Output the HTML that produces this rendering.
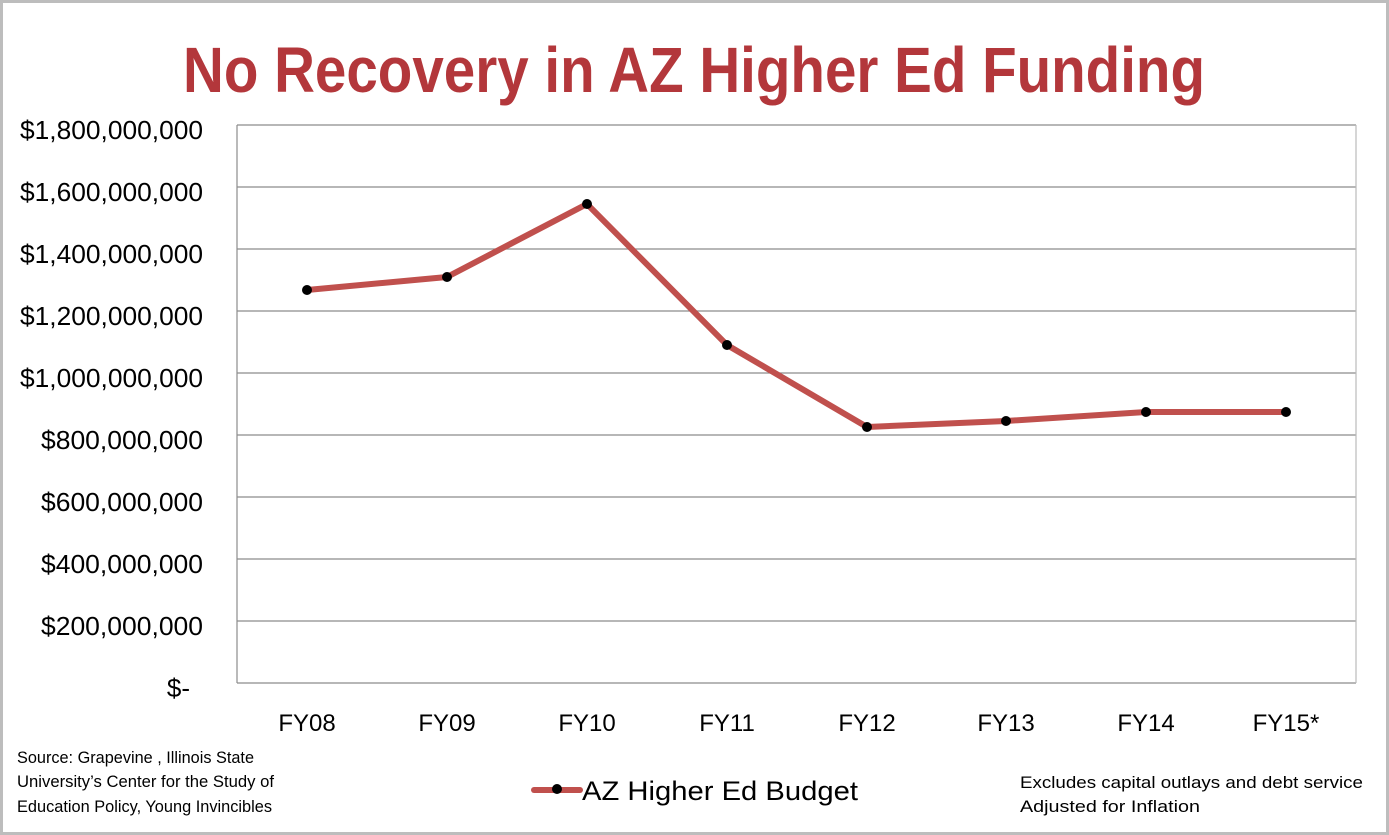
<!DOCTYPE html>
<html><head><meta charset="utf-8"><style>
html,body{margin:0;padding:0;background:#fff}
svg{display:block}
text{font-family:"Liberation Sans",sans-serif}
</style></head><body>
<svg width="1389" height="835" viewBox="0 0 1389 835" xmlns="http://www.w3.org/2000/svg">
<rect x="1.5" y="1.5" width="1386" height="832" fill="#fff" stroke="#bdbdbd" stroke-width="3"/>
<text x="694" y="92" text-anchor="middle" font-size="64" font-weight="bold" fill="#b3373b" textLength="1022" lengthAdjust="spacingAndGlyphs">No Recovery in AZ Higher Ed Funding</text>
<g stroke="#8c8c8c" stroke-width="1.2">
<line x1="237" y1="125" x2="1356" y2="125"/>
<line x1="237" y1="187" x2="1356" y2="187"/>
<line x1="237" y1="249" x2="1356" y2="249"/>
<line x1="237" y1="311" x2="1356" y2="311"/>
<line x1="237" y1="373" x2="1356" y2="373"/>
<line x1="237" y1="435" x2="1356" y2="435"/>
<line x1="237" y1="497" x2="1356" y2="497"/>
<line x1="237" y1="559" x2="1356" y2="559"/>
<line x1="237" y1="621" x2="1356" y2="621"/>
<line x1="237" y1="683" x2="1356" y2="683"/>
<line x1="237" y1="125" x2="237" y2="683"/>
<line x1="1356" y1="125" x2="1356" y2="683" stroke="#bbb"/>
</g>
<g font-size="26" fill="#000" text-anchor="end">
<text x="203" y="139" textLength="183" lengthAdjust="spacingAndGlyphs">$1,800,000,000</text>
<text x="203" y="201" textLength="183" lengthAdjust="spacingAndGlyphs">$1,600,000,000</text>
<text x="203" y="263" textLength="183" lengthAdjust="spacingAndGlyphs">$1,400,000,000</text>
<text x="203" y="325" textLength="183" lengthAdjust="spacingAndGlyphs">$1,200,000,000</text>
<text x="203" y="387" textLength="183" lengthAdjust="spacingAndGlyphs">$1,000,000,000</text>
<text x="203" y="449" textLength="162" lengthAdjust="spacingAndGlyphs">$800,000,000</text>
<text x="203" y="511" textLength="162" lengthAdjust="spacingAndGlyphs">$600,000,000</text>
<text x="203" y="573" textLength="162" lengthAdjust="spacingAndGlyphs">$400,000,000</text>
<text x="203" y="635" textLength="162" lengthAdjust="spacingAndGlyphs">$200,000,000</text>
<text x="190" y="697">$-</text>
</g>
<g font-size="24" fill="#000" text-anchor="middle">
<text x="307" y="731">FY08</text><text x="447" y="731">FY09</text><text x="587" y="731">FY10</text><text x="727" y="731">FY11</text>
<text x="867" y="731">FY12</text><text x="1006" y="731">FY13</text><text x="1146" y="731">FY14</text><text x="1286" y="731">FY15*</text>
</g>
<polyline points="307,290 447,277 587,204 727,345 867,427 1006,421 1146,412 1286,412" fill="none" stroke="#c0504d" stroke-width="6" stroke-linejoin="round"/>
<g fill="#000">
<circle cx="307" cy="290" r="5"/><circle cx="447" cy="277" r="5"/><circle cx="587" cy="204" r="5"/><circle cx="727" cy="345" r="5"/>
<circle cx="867" cy="427" r="5"/><circle cx="1006" cy="421" r="5"/><circle cx="1146" cy="412" r="5"/><circle cx="1286" cy="412" r="5"/>
</g>
<g font-size="16.5" fill="#000">
<text x="17" y="763" textLength="237" lengthAdjust="spacingAndGlyphs">Source: Grapevine , Illinois State</text>
<text x="17" y="787" textLength="257" lengthAdjust="spacingAndGlyphs">University’s Center for the Study of</text>
<text x="17" y="812" textLength="255" lengthAdjust="spacingAndGlyphs">Education Policy, Young Invincibles</text>
<text x="1020" y="788" textLength="343" lengthAdjust="spacingAndGlyphs">Excludes capital outlays and debt service</text>
<text x="1020" y="812" textLength="180" lengthAdjust="spacingAndGlyphs">Adjusted for Inflation</text>
</g>
<line x1="534" y1="790" x2="580" y2="790" stroke="#c0504d" stroke-width="6" stroke-linecap="round"/>
<circle cx="557" cy="789" r="5" fill="#000"/>
<text x="582" y="800" font-size="27" fill="#000" textLength="276" lengthAdjust="spacingAndGlyphs">AZ Higher Ed Budget</text>
</svg>
</body></html>
